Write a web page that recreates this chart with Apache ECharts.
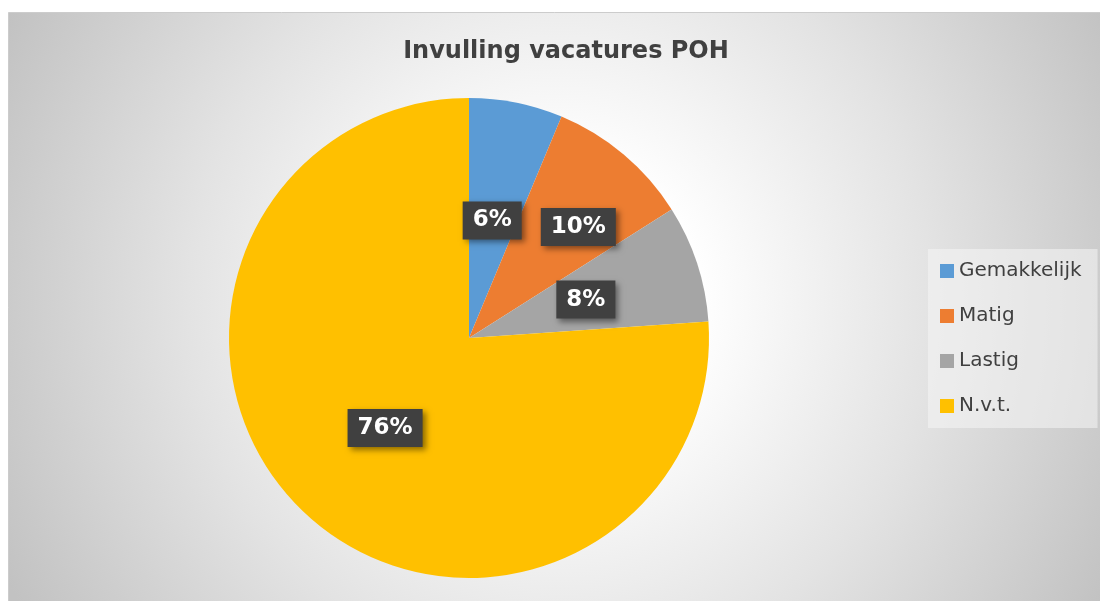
<!DOCTYPE html>
<html>
<head>
<meta charset="utf-8">
<script src="https://cdn.jsdelivr.net/npm/echarts@6/dist/echarts.min.js"></script>
<style>
  html, body { margin: 0; padding: 0; background: #ffffff; }
  #main { width: 1100px; height: 601px; }
</style>
</head>
<body>
<div id="main"></div>
<script>
// data
const categories = ['Gemakkelijk', 'Matig', 'Lastig', 'N.v.t.'];
const shares = [6.3, 9.7, 7.9, 76.1];
const colors = ['#5B9BD5', '#ED7D31', '#A5A5A5', '#FFC000'];

const chart = echarts.init(document.getElementById('main'));

const labelBox = {
    show: true,
    position: 'inside',
    formatter: '{d}%',
    color: '#ffffff',
    fontFamily: 'DejaVu Sans',
    fontWeight: 'bold',
    fontSize: 23,
    lineHeight: 26,
    backgroundColor: '#404040',
    padding: [6, 10],
    shadowColor: 'rgba(0,0,0,0.45)',
    shadowBlur: 6,
    shadowOffsetX: 3,
    shadowOffsetY: 3
};

let data = categories.map(function (name, i) {
    let item = {
        name: name,
        value: shares[i],
        itemStyle: { color: colors[i] }
    };
    if (name === 'Matig') {
        item.label = { offset: [30, -17] };
    }
    if (name === 'Gemakkelijk') {
        item.label = { offset: [-1, 3] };
    }
    return item;
});

let option = {
    animation: false,
    graphic: [
        {
            type: 'rect',
            z: -10,
            silent: true,
            shape: { x: 8.5, y: 12.5, width: 1100, height: 600 },
            style: {
                fill: new echarts.graphic.RadialGradient(560, 300, 620, [
                    { offset: 0, color: '#ffffff' },
                    { offset: 0.22, color: '#ffffff' },
                    { offset: 0.6, color: '#e3e3e3' },
                    { offset: 1, color: '#c2c2c2' }
                ], true),
                stroke: '#cccccc',
                lineWidth: 1
            }
        }
    ],
    title: {
        text: 'Invulling vacatures POH',
        left: 561,
        top: 35,
        textAlign: 'center',
        textStyle: {
            fontFamily: 'DejaVu Sans',
            fontWeight: 'bold',
            fontSize: 24,
            color: '#404040'
        }
    },
    legend: {
        orient: 'vertical',
        left: 928,
        top: 249,
        padding: [12, 16, 12, 12],
        backgroundColor: 'rgba(245,245,245,0.55)',
        itemWidth: 14,
        itemHeight: 14,
        itemGap: 25,
        icon: 'rect',
        data: categories,
        textStyle: {
            fontFamily: 'DejaVu Sans',
            fontSize: 20,
            lineHeight: 20,
            color: '#404040'
        }
    },
    series: [
        {
            type: 'pie',
            center: [469, 338],
            radius: 240,
            startAngle: 90,
            clockwise: true,
            percentPrecision: 0,
            label: labelBox,
            labelLine: { show: false },
            emphasis: { disabled: true },
            data: data
        }
    ]
};

chart.setOption(option);
</script>
</body>
</html>
